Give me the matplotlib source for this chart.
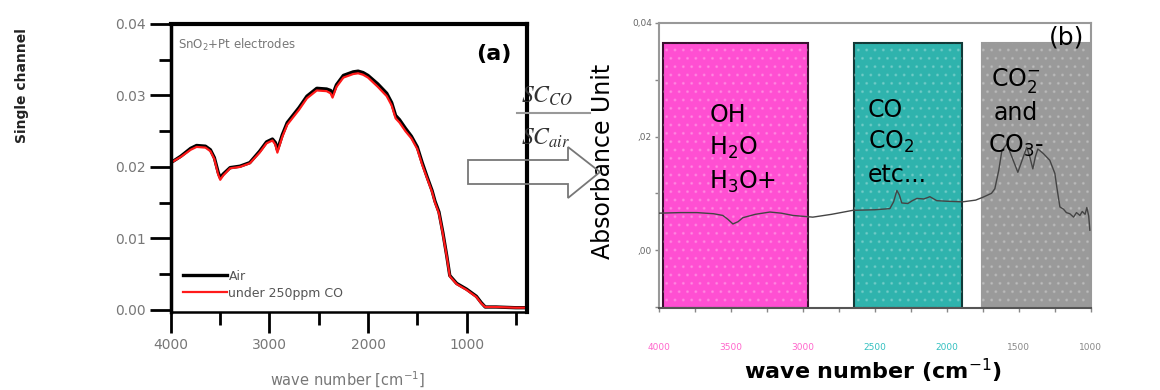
import matplotlib
matplotlib.use("Agg")
import matplotlib.pyplot as plt
from matplotlib.patches import Rectangle, Polygon
from matplotlib.lines import Line2D
from matplotlib.ticker import MultipleLocator, FixedLocator, FixedFormatter

# --- panel (a): single channel spectra ---
wn_a = [4000, 3900, 3800, 3740, 3650, 3600, 3560, 3520, 3500, 3470, 3400, 3300,
        3200, 3100, 3030, 2970, 2940, 2920, 2900, 2870, 2820, 2700, 2620, 2520,
        2420, 2380, 2360, 2320, 2250, 2150, 2100, 2050, 2000, 1900, 1810, 1760,
        1720, 1680, 1620, 1560, 1500, 1450, 1400, 1350, 1320, 1280, 1240, 1200,
        1170, 1100, 1000, 950, 900, 850, 810, 700, 500, 390]
sc_air = [0.0206, 0.0215, 0.0226, 0.0230, 0.0229, 0.0224, 0.0213, 0.0192, 0.0185,
          0.0190, 0.0199, 0.0201, 0.0206, 0.0222, 0.0235, 0.0239, 0.0234, 0.0224,
          0.0232, 0.0245, 0.0262, 0.0283, 0.0299, 0.0310, 0.0309, 0.0307, 0.0301,
          0.0315, 0.0328, 0.0333, 0.0334, 0.0332, 0.0328, 0.0316, 0.0303, 0.0290,
          0.0272, 0.0266, 0.0254, 0.0243, 0.0228, 0.0206, 0.0186, 0.0167, 0.0152,
          0.0137, 0.0108, 0.0075, 0.0048, 0.0037, 0.0029, 0.0024, 0.0019, 0.0010,
          0.0004, 0.0004, 0.0003, 0.0003]
sc_co = [0.0206, 0.0214, 0.0224, 0.0228, 0.0227, 0.0222, 0.0211, 0.0189, 0.0182,
         0.0188, 0.0198, 0.0200, 0.0205, 0.0220, 0.0233, 0.0237, 0.0231, 0.0220,
         0.0229, 0.0242, 0.0259, 0.0280, 0.0296, 0.0307, 0.0306, 0.0303, 0.0297,
         0.0312, 0.0325, 0.0330, 0.0331, 0.0329, 0.0325, 0.0312, 0.0299, 0.0286,
         0.0268, 0.0262, 0.0250, 0.0240, 0.0225, 0.0203, 0.0184, 0.0165, 0.0150,
         0.0135, 0.0106, 0.0074, 0.0047, 0.0036, 0.0028, 0.0023, 0.0018, 0.0009,
         0.0004, 0.0004, 0.0003, 0.0003]

# --- panel (b): absorbance spectrum ---
wn_b = [4000, 3850, 3736, 3620, 3556, 3520, 3486, 3450, 3417, 3330, 3229, 3150,
        3069, 2931, 2800, 2653, 2500, 2396, 2370, 2347, 2330, 2313, 2271, 2240,
        2208, 2160, 2118, 2070, 2000, 1889, 1800, 1750, 1690, 1667, 1640, 1618,
        1583, 1550, 1507, 1475, 1445, 1425, 1403, 1385, 1368, 1330, 1285, 1250,
        1236, 1215, 1190, 1170, 1146, 1120, 1100, 1076, 1060, 1040, 1028, 1015, 1007]
absorb = [0.0065, 0.0066, 0.0066, 0.0064, 0.0061, 0.0054, 0.0046, 0.0050, 0.0057,
          0.0063, 0.0067, 0.0065, 0.0061, 0.0058, 0.0063, 0.0070, 0.0071, 0.0073,
          0.0085, 0.0105, 0.0097, 0.0083, 0.0082, 0.0087, 0.0091, 0.0090, 0.0094,
          0.0087, 0.0086, 0.0085, 0.0088, 0.0093, 0.0100, 0.0108, 0.0140, 0.0175,
          0.0187, 0.0165, 0.0137, 0.0160, 0.0181, 0.0165, 0.0143, 0.0165, 0.0178,
          0.0170, 0.0158, 0.0135, 0.0110, 0.0076, 0.0072, 0.0066, 0.0064, 0.0058,
          0.0066, 0.0061, 0.0068, 0.0063, 0.0075, 0.0060, 0.0035]

# regions: (start, end, face, edge)
regions = [(3972, 2965, "#ff4fd2", "#3a1030"),
           (2646, 1896, "#2fb3ad", "#123a38"),
           (1757, 1000, "#9a9a9a", "#9a9a9a")]
region_top = 0.0365
b_ticks = [4000, 3500, 3000, 2500, 2000, 1500, 1000]
b_tick_colors = ["#ff66cc", "#ff66cc", "#ff66cc", "#33c0c0", "#33c0c0", "#888888", "#888888"]

fig = plt.figure(figsize=(11.6, 3.9), dpi=100)

# ---------- (a) ----------
ax = fig.add_axes([0.1474, 0.2, 0.307, 0.7385])
ax.plot(wn_a, sc_air, color="black", lw=2.4, label="Air")
ax.plot(wn_a, sc_co, color="#ff1a1a", lw=1.6, label="under 250ppm CO")
ax.set_xlim(4000, 385)
ax.set_ylim(-0.0003, 0.04)
ax.xaxis.set_major_locator(MultipleLocator(1000))
ax.xaxis.set_minor_locator(MultipleLocator(500))
ax.yaxis.set_major_locator(MultipleLocator(0.01))
ax.yaxis.set_minor_locator(MultipleLocator(0.005))
ax.yaxis.set_major_formatter(plt.FormatStrFormatter("%.2f"))
ax.tick_params(which="major", direction="out", length=15, width=2, colors="black",
               labelcolor="#777777", labelsize=10)
ax.tick_params(which="minor", direction="out", length=9, width=2, colors="black")
ax.tick_params(axis="x", pad=4)
ax.tick_params(axis="y", pad=3)
for side, w in [("left", 2.5), ("bottom", 1.8), ("top", 3), ("right", 3)]:
    ax.spines[side].set_linewidth(w)
    ax.spines[side].set_color("black")
ax.text(0.02, 0.955, r"SnO$_2$+Pt electrodes", transform=ax.transAxes,
        color="#777777", fontsize=8.5, va="top", ha="left")
ax.text(0.955, 0.93, "(a)", transform=ax.transAxes, fontsize=16,
        fontweight="bold", ha="right", va="top")
leg = ax.legend(loc="lower left", frameon=False, handlelength=3.5, fontsize=9,
                labelspacing=0.3, borderaxespad=0.6, handletextpad=0.1)
for t in leg.get_texts():
    t.set_color("#555555")

fig.text(0.019, 0.78, "Single channel", rotation=90, fontsize=10,
         fontweight="bold", ha="center", va="center", color="#222222")
fig.text(0.30, 0.025, r"wave number [cm$^{-1}$]", fontsize=10.5,
         color="#777777", ha="center", va="center")

# ---------- fraction and arrow ----------
fig.text(0.449, 0.755, r"$SC_{CO}$", fontsize=17, math_fontfamily="stix",
         color="#333333", ha="left", va="center")
fig.text(0.449, 0.645, r"$SC_{air}$", fontsize=17, math_fontfamily="stix",
         color="#333333", ha="left", va="center")
fig.add_artist(Line2D([517 / 1160, 590 / 1160], [1 - 113 / 390, 1 - 113 / 390],
                      color="#999999", lw=1.5))
arrow_px = [(468, 160), (568, 160), (568, 147), (600, 172), (568, 198),
            (568, 184), (468, 184)]
fig.add_artist(Polygon([(x / 1160, 1 - y / 390) for x, y in arrow_px], closed=True,
                       facecolor="none", edgecolor="#777777", lw=1.3))

# ---------- (b) ----------
bx = fig.add_axes([0.568, 0.2103, 0.3724, 0.7308])
for start, end, face, edge in regions:
    bx.add_patch(Rectangle((end, -0.0102), start - end, region_top + 0.0102,
                           facecolor=face, edgecolor=edge, lw=1.5, zorder=1))
    bx.add_patch(Rectangle((end, -0.0102), start - end, region_top + 0.0102,
                           facecolor="none", edgecolor="#ffffff30", lw=0,
                           hatch="..", zorder=1.5))
bx.plot(wn_b, absorb, color="#444444", lw=1.0, zorder=3)
bx.set_xlim(4000, 1000)
bx.set_ylim(-0.0102, 0.04)
bx.xaxis.set_major_locator(FixedLocator(b_ticks))
bx.xaxis.set_minor_locator(MultipleLocator(250))
bx.yaxis.set_major_locator(FixedLocator([0.0, 0.02, 0.04]))
bx.yaxis.set_major_formatter(FixedFormatter([",00", ",02", "0,04"]))
bx.yaxis.set_minor_locator(MultipleLocator(0.01))
bx.tick_params(which="both", direction="out", length=3, width=1, colors="#888888",
               labelsize=6.5)
bx.tick_params(axis="x", pad=22)
bx.tick_params(axis="y", labelcolor="#666666", pad=2)
for lbl, c in zip(bx.get_xticklabels(), b_tick_colors):
    lbl.set_color(c)
for side in ["left", "bottom", "top", "right"]:
    bx.spines[side].set_color("#999999")
    bx.spines[side].set_linewidth(1.5)
bx.spines["bottom"].set_color("#555555")

bx.text(3650, 0.0178, "OH\nH$_2$O\nH$_3$O+", fontsize=17, va="center",
        ha="left", linespacing=1.38, zorder=4)
bx.text(2550, 0.0190, "CO\nCO$_2$\netc...", fontsize=17, va="center",
        ha="left", linespacing=1.38, zorder=4)
bx.text(1520, 0.0243, "CO$_2^{-}$\nand\nCO$_3$-", fontsize=17, va="center",
        ha="center", linespacing=1.35, zorder=4)
bx.text(0.985, 0.99, "(b)", transform=bx.transAxes, fontsize=18,
        ha="right", va="top", zorder=4)
bx.set_ylabel("Absorbance Unit", fontsize=17)
bx.yaxis.set_label_coords(-0.102, 0.516)
fig.text(0.753, 0.028, r"wave number (cm$^{-1}$)", fontsize=16,
         fontweight="bold", ha="center", va="baseline")

fig.savefig("out.png", dpi=100)
